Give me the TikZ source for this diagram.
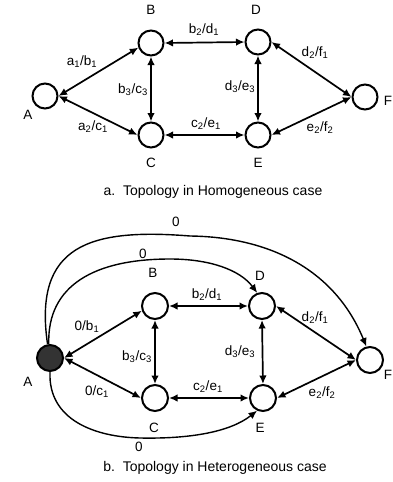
\documentclass[tikz,border=0pt]{standalone}
\usepackage{fontspec}
\setmainfont{Liberation Sans}
\usetikzlibrary{arrows.meta}
\begin{document}
\begin{tikzpicture}[x=1pt,y=-1pt,
  st/.style={circle,draw,line width=2pt,minimum size=25pt,inner sep=0pt},
  stb/.style={st,minimum size=26pt},
  lab/.style={font=\fontsize{13.5}{15}\selectfont,inner sep=0pt},
  elab/.style={font=\fontsize{13.5}{15}\selectfont,inner sep=0pt},
  captxt/.style={font=\fontsize{14}{16}\selectfont,inner sep=0pt},
  link/.style={line width=1.7pt,{Latex[length=8.5pt,width=7.5pt]}-{Latex[length=8.5pt,width=7.5pt]}},
  zlink/.style={line width=1.4pt,-{Latex[length=8.5pt,width=7.5pt]}}]
\useasboundingbox[fill=white] (0,0) rectangle (393,482);
% ---------- top
\node[st] (A) at (45,96) {};
\node[st] (B) at (151,43) {};
\node[st] (C) at (151,135) {};
\node[st] (D) at (258,42) {};
\node[st] (E) at (258,135) {};
\node[st] (F) at (365,97) {};
\node[lab] (lA) at (28,115) {A};
\node[lab] (lB) at (151,10) {B};
\node[lab] (lC) at (151,163) {C};
\node[lab] (lD) at (256,10) {D};
\node[lab] (lE) at (258,163) {E};
\node[lab] (lF) at (388,101) {F};
\draw[link] (A.east) -- (B.200);
\draw[link] (A.east) -- (C.west);
\draw[link] (B.south) -- (C.north);
\draw[link] (B.east) -- (D.west);
\draw[link] (C.east) -- (E.west);
\draw[link] (D.south) -- (E.north);
\draw[link] (D.east) -- (F.west);
\draw[link] (E.east) -- (F.west);
\node[elab] (e1) at (82,62) {a\textsubscript{1}/b\textsubscript{1}};
\node[elab] (e2) at (93,127) {a\textsubscript{2}/c\textsubscript{1}};
\node[elab] (e3) at (133,90) {b\textsubscript{3}/c\textsubscript{3}};
\node[elab] (e4) at (204,30) {b\textsubscript{2}/d\textsubscript{1}};
\node[elab] (e5) at (206,124) {c\textsubscript{2}/e\textsubscript{1}};
\node[elab] (e6) at (240,87) {d\textsubscript{3}/e\textsubscript{3}};
\node[elab] (e7) at (315,53) {d\textsubscript{2}/f\textsubscript{1}};
\node[elab] (e8) at (320,128) {e\textsubscript{2}/f\textsubscript{2}};
\node[captxt] (capa) at (213,192) {a.\ \ Topology in Homogeneous case};
% ---------- bottom
\node[stb,fill=black!80] (A2) at (50,358) {};
\node[stb] (B2) at (155,306) {};
\node[stb] (C2) at (155,398) {};
\node[stb] (D2) at (262,306) {};
\node[stb] (E2) at (263,398) {};
\node[stb] (F2) at (370,360) {};
\node[lab] (lA2) at (28,382) {A};
\node[lab] (lB2) at (153,273) {B};
\node[lab] (lC2) at (154,428) {C};
\node[lab] (lD2) at (260,276) {D};
\node[lab] (lE2) at (260,428) {E};
\node[lab] (lF2) at (388,375) {F};
\draw[link] (A2.east) -- (B2.200);
\draw[link] (A2.east) -- (C2.west);
\draw[link] (B2.south) -- (C2.north);
\draw[link] (B2.east) -- (D2.west);
\draw[link] (C2.east) -- (E2.west);
\draw[link] (D2.south) -- (E2.north);
\draw[link] (D2.east) -- (F2.west);
\draw[link] (E2.east) -- (F2.west);
\draw[zlink] (A2.100) .. controls (33,245) and (90,228) .. (190,236)
   .. controls (270,237) and (335,270) .. (F2.105);
\draw[zlink] (A2.95) .. controls (47,285) and (95,259) .. (170,259)
   .. controls (210,259) and (240,270) .. (D2.110);
\draw[zlink] (A2.south) .. controls (48,420) and (95,437) .. (140,438)
   .. controls (190,439) and (230,432) .. (E2.245);
\node[elab] (z1) at (176,222) {0};
\node[elab] (z2) at (143,254) {0};
\node[elab] (z3) at (139,447) {0};
\node[elab] (f1) at (87,327) {0/b\textsubscript{1}};
\node[elab] (f2) at (97,392) {0/c\textsubscript{1}};
\node[elab] (f3) at (137,357) {b\textsubscript{3}/c\textsubscript{3}};
\node[elab] (f4) at (207,295) {b\textsubscript{2}/d\textsubscript{1}};
\node[elab] (f5) at (208,387) {c\textsubscript{2}/e\textsubscript{1}};
\node[elab] (f6) at (240,352) {d\textsubscript{3}/e\textsubscript{3}};
\node[elab] (f7) at (315,318) {d\textsubscript{2}/f\textsubscript{1}};
\node[elab] (f8) at (322,393) {e\textsubscript{2}/f\textsubscript{2}};
\node[captxt] (capb) at (215,468) {b.\ \ Topology in Heterogeneous case};
\end{tikzpicture}
\end{document}
